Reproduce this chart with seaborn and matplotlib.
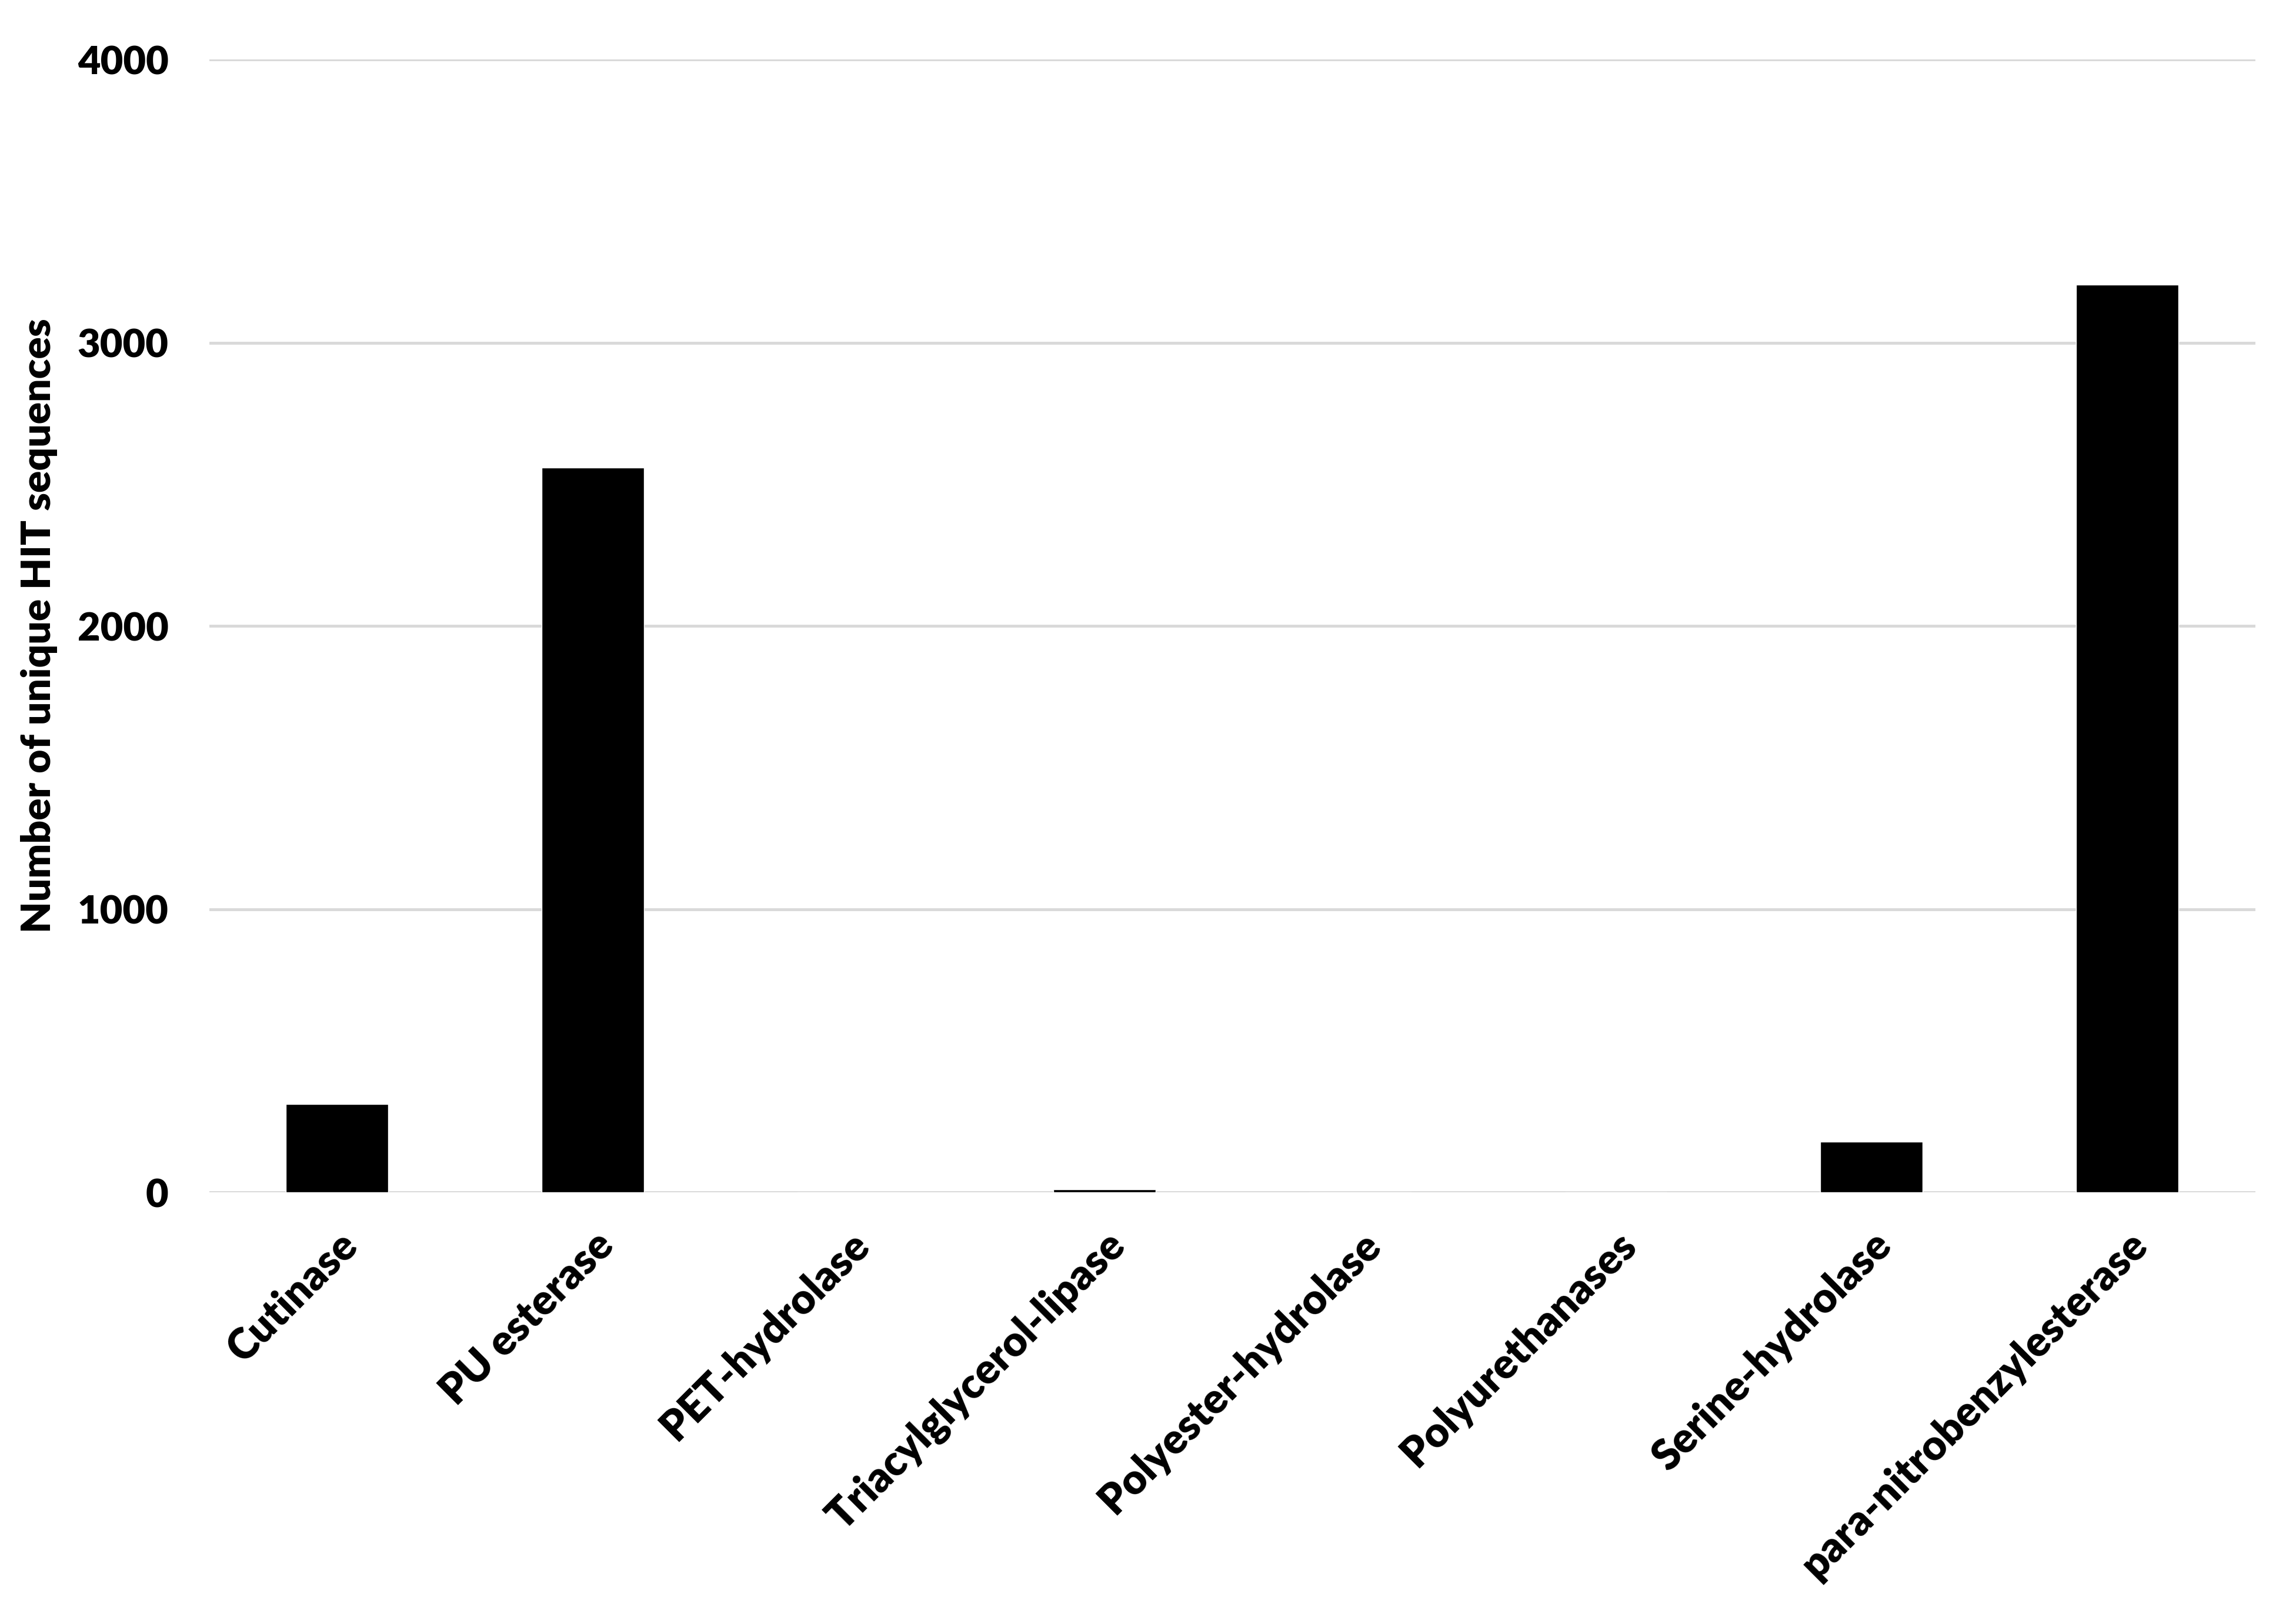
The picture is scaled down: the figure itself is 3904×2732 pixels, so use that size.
import pandas as pd
import seaborn as sns
import matplotlib.pyplot as plt

# enzyme classes and hit counts
enzymes = ["Cutinase", "PU esterase", "PET-hydrolase", "Triacylglycerol-lipase",
           "Polyester-hydrolase", "Polyurethanases", "Serine-hydrolase",
           "para-nitrobenzylesterase"]
hits = [311, 2559, 0, 10, 0, 0, 179, 3205]
yticks = [0, 1000, 2000, 3000, 4000]

data = pd.DataFrame({"Enzyme": enzymes, "Hits": hits})

sns.set_theme(style="white")
plt.rcParams["font.family"] = ["Lato", "DejaVu Sans"]
plt.rcParams["font.weight"] = "heavy"
plt.rcParams["text.color"] = "black"
plt.rcParams["axes.labelcolor"] = "black"
plt.rcParams["xtick.color"] = "black"
plt.rcParams["ytick.color"] = "black"

fig = plt.figure(figsize=(39.04, 27.32), dpi=100)
ax = fig.add_axes([0.0912, 0.258, 0.891, 0.705])

sns.barplot(x="Enzyme", y="Hits", data=data, color="black", width=0.4,
            saturation=1, ax=ax, zorder=3)

ax.set_ylim(0, 4000)
ax.set_xlim(-0.5, len(enzymes) - 0.5)
ax.set_yticks(yticks)
ax.set_yticklabels([str(t) for t in yticks], fontsize=48, fontweight="heavy")
ax.yaxis.grid(True, color="#d9d9d9", linewidth=3.5, zorder=0)
ax.xaxis.grid(False)
for s in ax.spines.values():
    s.set_visible(False)
ax.tick_params(axis="both", length=0)
ax.tick_params(axis="y", pad=50)

ax.set_xticks(range(len(enzymes)))
ax.set_xticklabels(enzymes, rotation=45, ha="right", rotation_mode="anchor",
                   fontsize=51, fontweight="heavy")
ax.tick_params(axis="x", pad=40)

ax.set_xlabel("")
ax.set_ylabel("Number of unique HIT sequences", fontsize=50, fontweight="heavy",
              labelpad=24)

fig.savefig("out.png", dpi=100, facecolor="white")
